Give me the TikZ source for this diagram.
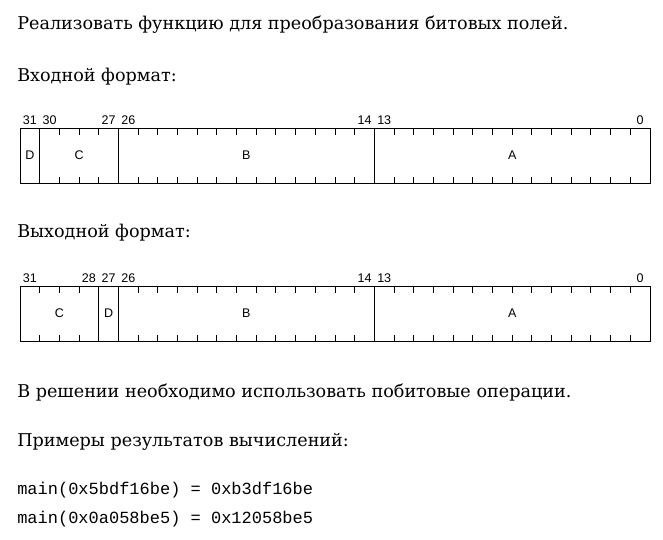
\documentclass[tikz,border=0pt]{standalone}
\usepackage{fontspec}
\setmainfont{DejaVu Serif}
\setsansfont{Liberation Sans}
\setmonofont{Liberation Mono}
\newcommand{\bitw}{19.6875}
\tikzset{
  para/.style={anchor=base west,inner sep=0pt,font=\fontsize{13.2}{16}\selectfont},
  code/.style={anchor=base west,inner sep=0pt,font=\ttfamily\fontsize{12.75}{15}\selectfont},
  bitno/.style={anchor=base,inner sep=0pt,font=\sffamily\fontsize{9.4}{11}\selectfont},
  field/.style={draw,line width=0.75pt,anchor=north west,inner sep=0pt,outer sep=0pt,
    minimum height=41.25pt,font=\sffamily\fontsize{9.4}{11}\selectfont},
  tick/.style={line width=0.75pt}
}

\begin{document}
\begin{tikzpicture}[x=0.75pt,y=-0.75pt]
  \useasboundingbox[fill=white] (0,0) rectangle (663,539);
  \node[para] (task) at (17,29) {Реализовать функцию для преобразования битовых полей.};
  \node[para] (inhead) at (17,81) {Входной формат:};
  \node[para] (outhead) at (17,237.5) {Выходной формат:};
  \node[para] (hint) at (17,397) {В решении необходимо использовать побитовые операции.};
  \node[para] (exhead) at (17,446.5) {Примеры результатов вычислений:};
  \node[code] (ex1) at (17,494) {main(0x5bdf16be) = 0xb3df16be};
  \node[code] (ex2) at (17,523) {main(0x0a058be5) = 0x12058be5};
  % the two registers
  \foreach \rg/\ytop/\fields in {in/128/{D/31/31,C/30/27,B/26/14,A/13/0},
                                 out/286/{C/31/28,D/27/27,B/26/14,A/13/0}} {
    \foreach \k in {1,...,31}
      \draw[tick] ({20+\k*\bitw},\ytop) -- ++(0,6.5) ({20+\k*\bitw},\ytop+55) -- ++(0,-6.5);
    \foreach \f/\hi/\lo in \fields {
      \pgfmathsetmacro\fx{20+(31-\hi)*\bitw}
      \pgfmathsetmacro\fw{(\hi-\lo+1)*\bitw*0.75}
      \node[field,minimum width=\fw pt] (\rg\f) at (\fx,\ytop) {\f};
      \node[bitno] (\rg\f-hi) at ({\fx+0.5*\bitw},{\ytop-4}) {\hi};
      \ifnum\hi>\lo
        \node[bitno] (\rg\f-lo) at ({20+(31-\lo+0.5)*\bitw},{\ytop-4}) {\lo};
      \fi
    }
  }
\end{tikzpicture}
\end{document}
